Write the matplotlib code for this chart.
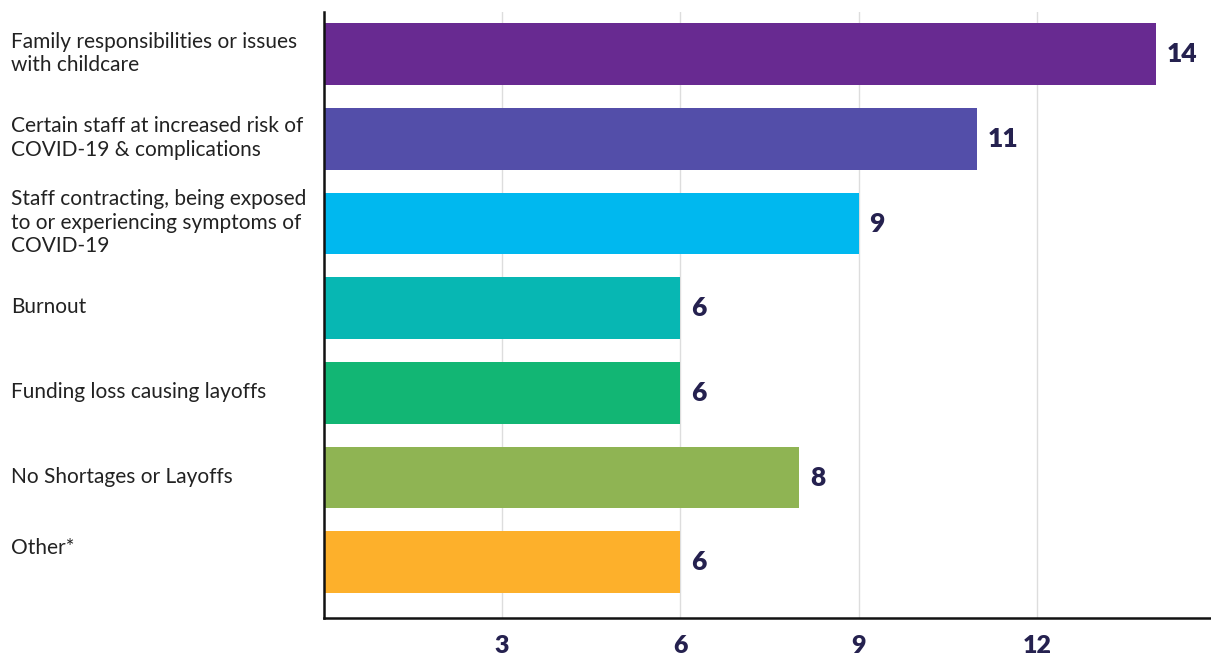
import matplotlib
matplotlib.use("Agg")
import matplotlib.pyplot as plt
from matplotlib.transforms import blended_transform_factory

categories = [
    "Family responsibilities or issues\nwith childcare",
    "Certain staff at increased risk of\nCOVID-19 & complications",
    "Staff contracting, being exposed\nto or experiencing symptoms of\nCOVID-19",
    "Burnout",
    "Funding loss causing layoffs",
    "No Shortages or Layoffs",
    "Other*",
]
values = [14, 11, 9, 6, 6, 8, 6]
colors = ["#682a91", "#534ea9", "#00b8ef", "#07b7b3", "#12b674", "#8fb453", "#fdb02b"]
xticks = [3, 6, 9, 12]

plt.rcParams['font.family'] = ['Lato', 'DejaVu Sans']

fig = plt.figure(figsize=(12.11, 6.58), dpi=100)
ax = fig.add_axes([324/1211, 40/658, 891/1211, 606/658])

ypos = list(range(len(categories)))
ax.barh(ypos, values, height=0.73, color=colors, zorder=3)
ax.set_xlim(0, 15)
ax.set_ylim(6.66, -0.5)

ax.set_xticks(xticks)
ax.set_xticklabels([str(t) for t in xticks], fontsize=18, fontweight='heavy', color='#25214f')
ax.tick_params(axis='x', length=0, pad=12)
ax.set_yticks([])
ax.grid(axis='x', color='#dddddd', linewidth=1, zorder=0)

for s in ['top', 'right']:
    ax.spines[s].set_visible(False)
for s in ['left', 'bottom']:
    ax.spines[s].set_color('#111111')
    ax.spines[s].set_linewidth(1.8)
    ax.spines[s].set_zorder(4)

for y, v in zip(ypos, values):
    ax.text(v + 0.18, y, str(v), va='center', ha='left', fontsize=19,
            fontweight='heavy', color='#25214f')

trans = blended_transform_factory(fig.transFigure, ax.transData)
for y, lab in zip(ypos, categories):
    dy = -0.17 if lab == "Other*" else -0.01
    ax.text(11/1211, y + dy, lab, transform=trans, ha='left', va='center',
            fontsize=15, color='#222222', linespacing=1.22)

fig.savefig("out.png", dpi=100)
